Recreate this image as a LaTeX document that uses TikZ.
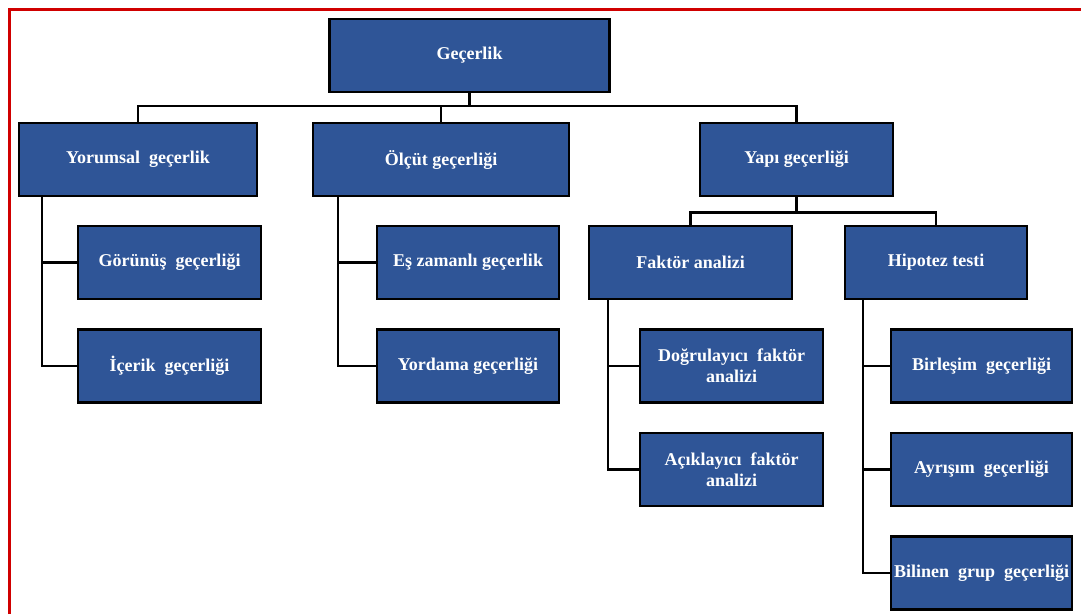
\documentclass[tikz,border=0pt]{standalone}
\usepackage{fontspec}
\setmainfont{Liberation Serif}
\usetikzlibrary{positioning}
\definecolor{boxblue}{HTML}{2F5597}
\definecolor{frame}{HTML}{D00000}
\tikzset{
  box/.style={draw=black, line width=2.6pt, fill=boxblue, text=white,
    font=\fontsize{18}{21}\selectfont\bfseries, align=center,
    minimum height=73pt, inner sep=2pt},
  link/.style={draw=black, line width=2.2pt}
}
\begin{document}
\begin{tikzpicture}[x=1pt,y=-1pt]
\useasboundingbox (0,0) rectangle (1081,614);
% page frame (top and left edges)
\draw[frame, line width=3pt] (9.5,614) -- (9.5,9.5) -- (1081,9.5);

% level 0
\node[box, minimum width=280pt] (g) at (469.5,55.5) {Geçerlik};
% level 1
\node[box, minimum width=238pt] (yor) at (138,159.5) {Yorumsal\ \ geçerlik};
\node[box, minimum width=256pt] (ol) at (441,159.5) {Ölçüt geçerliği};
\node[box, minimum width=193pt] (yapi) at (796.5,159.5) {Yapı geçerliği};
% level 2
\node[box, minimum width=183pt] (gor) at (169.5,262.5) {Görünüş\ \ geçerliği};
\node[box, minimum width=183pt] (ic) at (169.5,366) {İçerik\ \ geçerliği};
\node[box, minimum width=182pt] (es) at (468,262.5) {Eş zamanlı geçerlik};
\node[box, minimum width=182pt] (yord) at (468,366) {Yordama geçerliği};
\node[box, minimum width=203pt] (fak) at (690.5,262.5) {Faktör analizi};
\node[box, minimum width=182pt] (hip) at (936,262.5) {Hipotez testi};
% level 3
\node[box, minimum width=183pt] (dog) at (731.5,366) {Doğrulayıcı\ \ faktör\\analizi};
\node[box, minimum width=183pt] (aci) at (731.5,469.5) {Açıklayıcı\ \ faktör\\analizi};
\node[box, minimum width=181pt] (bir) at (981.5,366) {Birleşim\ \ geçerliği};
\node[box, minimum width=181pt] (ayr) at (981.5,469.5) {Ayrışım\ \ geçerliği};
\node[box, minimum width=181pt, inner sep=0pt] (bil) at (981.5,573) {Bilinen\ \ grup\ \ geçerliği};

% connectors: root to level 1
\coordinate (bar1) at (469.5,106);
\draw[link] (g.south) -- (bar1);
\draw[link] (yor.north) |- (bar1) -| (yapi.north);
\draw[link] (ol.north) -- (ol.north |- bar1);

% connectors: Yapı geçerliği to its two branches
\coordinate (bar2) at (796.5,212.5);
\draw[link] (yapi.south) -- (bar2);
\draw[link] (fak.north) |- (bar2) -| (hip.north);

% side connectors
\draw[link] ([xshift=24pt]yor.south west) |- (gor.west);
\draw[link] ([xshift=24pt]yor.south west) |- (ic.west);
\draw[link] ([xshift=26pt]ol.south west) |- (es.west);
\draw[link] ([xshift=26pt]ol.south west) |- (yord.west);
\draw[link] ([xshift=20pt]fak.south west) |- (dog.west);
\draw[link] ([xshift=20pt]fak.south west) |- (aci.west);
\draw[link] ([xshift=19pt]hip.south west) |- (bir.west);
\draw[link] ([xshift=19pt]hip.south west) |- (ayr.west);
\draw[link] ([xshift=19pt]hip.south west) |- (bil.west);
\end{tikzpicture}
\end{document}
